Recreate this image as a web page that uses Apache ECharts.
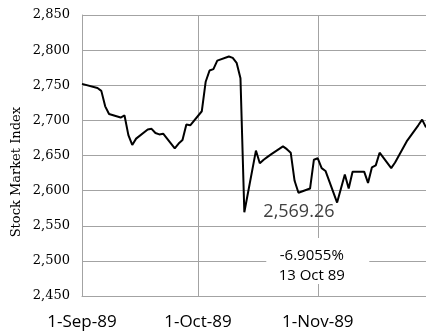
<!DOCTYPE html>
<html>
<head>
<meta charset="utf-8">
<script src="https://cdn.jsdelivr.net/npm/echarts@6/dist/echarts.min.js"></script>
<style>
  html, body { margin: 0; padding: 0; background: #fff; }
  #chart { width: 426px; height: 333px; }
</style>
</head>
<body>
<div id="chart"></div>
<script>
// Daily closing index, autumn 1989
const tradingDates = [
  '1989-09-01','1989-09-05','1989-09-06','1989-09-07','1989-09-08',
  '1989-09-11','1989-09-12','1989-09-13','1989-09-14','1989-09-15',
  '1989-09-18','1989-09-19','1989-09-20','1989-09-21','1989-09-22',
  '1989-09-25','1989-09-26','1989-09-27','1989-09-28','1989-09-29',
  '1989-10-02','1989-10-03','1989-10-04','1989-10-05','1989-10-06',
  '1989-10-09','1989-10-10','1989-10-11','1989-10-12','1989-10-13',
  '1989-10-16','1989-10-17','1989-10-18','1989-10-19','1989-10-20',
  '1989-10-23','1989-10-24','1989-10-25','1989-10-26','1989-10-27',
  '1989-10-30','1989-10-31',
  '1989-11-01','1989-11-02','1989-11-03',
  '1989-11-06','1989-11-07','1989-11-08','1989-11-09','1989-11-10',
  '1989-11-13','1989-11-14','1989-11-15','1989-11-16','1989-11-17',
  '1989-11-20','1989-11-21','1989-11-22','1989-11-24',
  '1989-11-27','1989-11-28','1989-11-29'
];
const closes = [
  2752, 2746, 2742, 2720, 2709,
  2704, 2707, 2679, 2665, 2674,
  2687, 2688, 2682, 2680, 2681,
  2660, 2667, 2672, 2694, 2693,
  2713, 2755, 2771, 2773, 2785,
  2791, 2789, 2782, 2759.84, 2569.26,
  2657, 2639, 2644, 2648, 2652,
  2663, 2659, 2654, 2614, 2597,
  2603, 2644,
  2646, 2632, 2628,
  2583, 2603, 2623, 2603, 2627,
  2627, 2611, 2633, 2636, 2654,
  2632, 2640, 2650, 2670,
  2693, 2701, 2690
];
const yTicks = { min: 2450, max: 2850, step: 50 };
const crashDate = '1989-10-13';
const noteAnchor = { date: '1989-11-01', value: 2500 };

const MONTHS = ['Jan','Feb','Mar','Apr','May','Jun','Jul','Aug','Sep','Oct','Nov','Dec'];

// Calendar days spanning the series, one category per day
function isoDay(d) { return d.toISOString().slice(0, 10); }
const calendar = [];
{
  const start = new Date(tradingDates[0] + 'T00:00:00Z');
  const end = new Date(tradingDates[tradingDates.length - 1] + 'T00:00:00Z');
  for (let d = new Date(start); d <= end; d.setUTCDate(d.getUTCDate() + 1)) {
    calendar.push(isoDay(d));
  }
}
const isMonthStart = (idx, val) => val.slice(8) === '01';
function dateLabel(val) {
  const [y, m, d] = val.split('-');
  return Number(d) + '-' + MONTHS[Number(m) - 1] + '-' + y.slice(2);
}
const fmtThousands = v => v.toLocaleString('en-US', { maximumFractionDigits: 2 });

const series = tradingDates.map((d, i) => [d, closes[i]]);
const crashIdx = tradingDates.indexOf(crashDate);
const crashValue = closes[crashIdx];
const prevValue = closes[crashIdx - 1];
const pctChange = ((crashValue - prevValue) / prevValue * 100).toFixed(4) + '%';
const crashParts = crashDate.split('-');
const crashText = Number(crashParts[2]) + ' ' + MONTHS[Number(crashParts[1]) - 1] + ' ' + crashParts[0].slice(2);

const gridGray = '#a3a3a3';

const chart = echarts.init(document.getElementById('chart'), null, { renderer: 'canvas' });
chart.setOption({
  animation: false,
  backgroundColor: '#ffffff',
  grid: { left: 82, right: 0, top: 15, bottom: 37, containLabel: false },
  xAxis: {
    type: 'category',
    data: calendar,
    boundaryGap: false,
    axisLine: { show: true, lineStyle: { color: gridGray, width: 1 } },
    axisTick: { show: false },
    axisLabel: {
      interval: isMonthStart,
      formatter: dateLabel,
      fontFamily: 'Open Sans',
      fontSize: 17,
      color: '#000',
      margin: 18
    },
    splitLine: { show: true, interval: isMonthStart, lineStyle: { color: gridGray, width: 1 } }
  },
  yAxis: {
    type: 'value',
    min: yTicks.min,
    max: yTicks.max,
    interval: yTicks.step,
    axisLine: { show: true, lineStyle: { color: gridGray, width: 1 } },
    axisTick: { show: false },
    axisLabel: {
      formatter: v => fmtThousands(v),
      fontFamily: 'DejaVu Serif',
      fontSize: 13,
      color: '#000',
      margin: 12
    },
    splitLine: { show: true, lineStyle: { color: gridGray, width: 1 } }
  },
  graphic: [{
    type: 'text',
    left: 10,
    top: 107,
    rotation: Math.PI / 2,
    originX: 0,
    originY: 0,
    style: {
      text: 'Stock Market Index',
      font: '13px "DejaVu Serif"',
      fill: '#000'
    }
  }],
  series: [{
    type: 'line',
    data: series,
    symbol: 'none',
    lineStyle: { color: '#000', width: 2 },
    z: 3,
    markPoint: {
      silent: true,
      animation: false,
      data: [
        {
          coord: [crashDate, crashValue],
          symbol: 'circle',
          symbolSize: 0,
          label: {
            show: true,
            position: 'right',
            distance: 19,
            formatter: () => fmtThousands(crashValue),
            fontFamily: 'Open Sans',
            fontSize: 18,
            color: '#404040'
          }
        },
        {
          coord: [noteAnchor.date, noteAnchor.value],
          symbol: 'rect',
          symbolSize: [103, 46],
          itemStyle: { color: '#ffffff' },
          label: {
            show: true,
            position: 'inside',
            offset: [-6, 5],
            formatter: () => pctChange + '\n' + crashText,
            fontFamily: 'Open Sans',
            fontSize: 15,
            lineHeight: 20,
            color: '#000'
          }
        }
      ]
    }
  }]
});
</script>
</body>
</html>
